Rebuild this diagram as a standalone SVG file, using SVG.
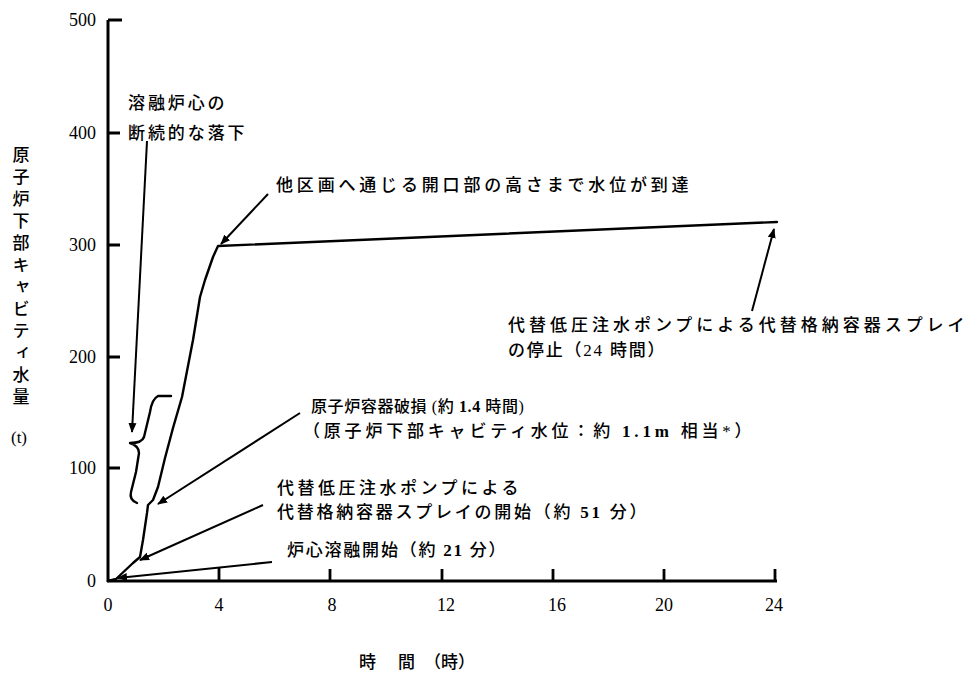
<svg xmlns="http://www.w3.org/2000/svg" width="973" height="675" viewBox="0 0 973 675">
<defs>
<marker id="ah" viewBox="0 0 10 10" refX="9" refY="5" markerWidth="10" markerHeight="10" markerUnits="userSpaceOnUse" orient="auto"><path d="M0,1 L10,5 L0,9 z" fill="#000"/></marker>
</defs>
<style>
.ax{stroke:#000;stroke-width:3;fill:none}
.tk{stroke:#000;stroke-width:2.8}
.num{font-family:'Liberation Serif',serif;font-size:18px;fill:#000}
.jp{font-family:'Liberation Serif','Noto Sans CJK JP',sans-serif;font-size:17px;font-weight:500;letter-spacing:3.4px;fill:#000}
.b{font-weight:bold}
.cv{stroke:#000;stroke-width:2.4;fill:none;stroke-linejoin:round;stroke-linecap:round}
.ar{stroke:#000;stroke-width:2;fill:none;marker-end:url(#ah)}
</style>
<rect width="973" height="675" fill="#fff"/>

<g id="axes">
<path class="ax" d="M108,20 V582 M107,581 H777"/>
<path class="tk" d="M108,20 H122 M108,133 H120 M108,245 H120 M108,357 H120 M108,468 H120"/>
<path class="tk" d="M219,581 V567 M330,581 V569 M442,581 V569 M553,581 V569 M664,581 V569 M775,581 V569"/>
</g>

<g id="y-labels" class="num" text-anchor="end">
<text x="96" y="26">500</text>
<text x="96" y="139">400</text>
<text x="96" y="251">300</text>
<text x="96" y="363">200</text>
<text x="96" y="474">100</text>
<text x="96" y="587">0</text>
</g>

<g id="x-labels" class="num" text-anchor="middle">
<text x="108" y="611">0</text>
<text x="219" y="611">4</text>
<text x="332" y="611">8</text>
<text x="446" y="611">12</text>
<text x="557" y="611">16</text>
<text x="664" y="611">20</text>
<text x="774" y="611">24</text>
</g>

<g id="y-title">
<text class="jp" x="19" y="146" style="writing-mode:vertical-rl;letter-spacing:5px">原子炉下部キャビティ水量</text>
<text class="num" x="19" y="443" text-anchor="middle" style="font-size:17px">(t)</text>
</g>

<g id="x-title">
<text class="jp" x="359" y="668" style="letter-spacing:0">時<tspan x="398">間</tspan><tspan x="424">（時）</tspan></text>
</g>

<g id="curve">
<path class="cv" d="M108,581 L116,579 L133,563 L140,557 L143,540 L147,513 L148,505 L153,500 L158,487 L165,458 L173,428 L182,397 L193,340 L200,297 L205,280 L213,257 L218,246 L777,222"/>
</g>

<g id="brace">
<path class="cv" d="M171,396 L158,396 Q152,399 150,412 L144,437 Q142,443 130,443 Q139,446 139,453 L136,472 L131,492 Q129,500 137,503"/>
</g>

<g id="label-fall">
<text class="jp" x="128" y="109" textLength="100" lengthAdjust="spacing">溶融炉心の</text>
<text class="jp" x="128" y="139" textLength="120" lengthAdjust="spacing">断続的な落下</text>
</g>
<g id="label-opening">
<text class="jp" x="276" y="191" textLength="416" lengthAdjust="spacing">他区画へ通じる開口部の高さまで水位が到達</text>
</g>
<g id="label-stop">
<text class="jp" x="508" y="331" textLength="460" lengthAdjust="spacing">代替低圧注水ポンプによる代替格納容器スプレイ</text>
<text class="jp" x="508" y="356" textLength="160" lengthAdjust="spacing">の停止（24 時間）</text>
</g>
<g id="label-rpv">
<text class="jp" x="311" y="412" style="font-size:16px;letter-spacing:0.6px">原子炉容器破損 (約 <tspan class="b">1.4</tspan> 時間)</text>
<text class="jp" x="303" y="437" textLength="452" lengthAdjust="spacing">（原子炉下部キャビティ水位：約 <tspan class="b">1.1m</tspan> 相当*）</text>
</g>
<g id="label-spray">
<text class="jp" x="277" y="494" textLength="245" lengthAdjust="spacing">代替低圧注水ポンプによる</text>
<text class="jp" x="277" y="518" textLength="373" lengthAdjust="spacing">代替格納容器スプレイの開始（約 <tspan class="b">51</tspan> 分）</text>
</g>
<g id="label-melt">
<text class="jp" x="287" y="556" textLength="222" lengthAdjust="spacing">炉心溶融開始（約 <tspan class="b">21</tspan> 分）</text>
</g>

<g id="connectors">
<path class="ar" d="M147,141 L132,432"/>
<path class="ar" d="M268,194 L221,244"/>
<path class="ar" d="M752,311 L774,229"/>
<path class="ar" d="M300,413 L158,504"/>
<path class="ar" d="M263,505 L140,560"/>
<path class="ar" d="M272,562 L118,578"/>
</g>
</svg>
